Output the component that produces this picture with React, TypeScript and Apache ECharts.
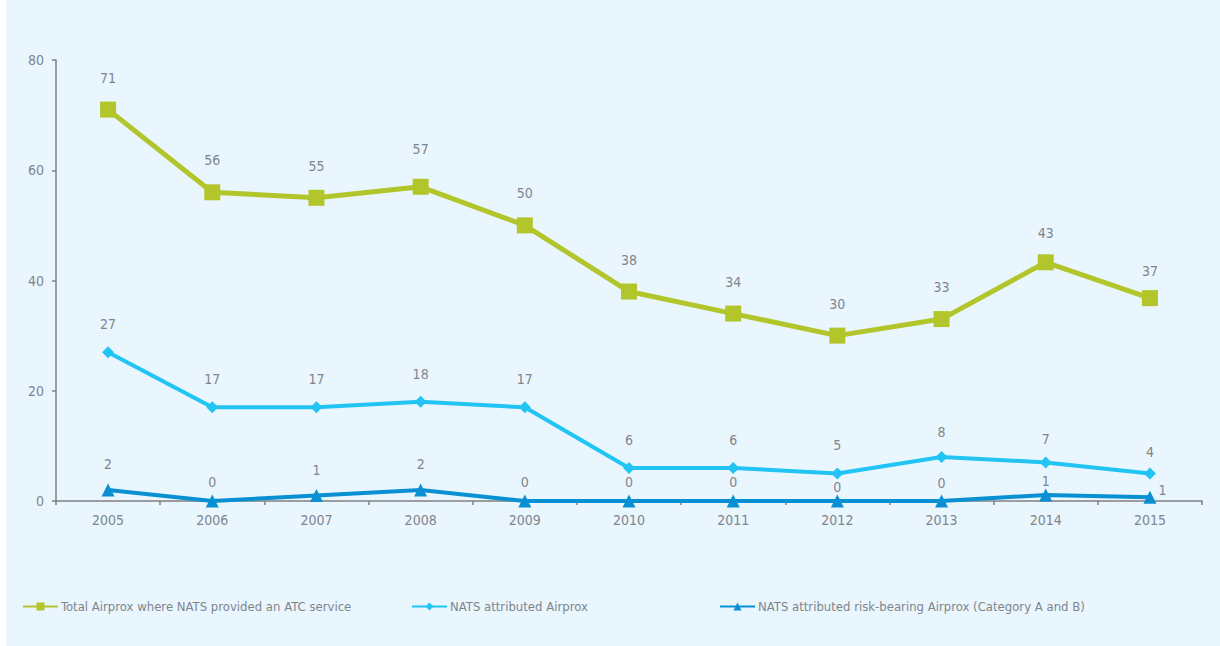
import React, { useEffect, useRef } from "react";
import * as echarts from "echarts";

const years = ["2005", "2006", "2007", "2008", "2009", "2010", "2011", "2012", "2013", "2014", "2015"];
const totalValues = [71, 56, 55, 57, 50, 38, 34, 30, 33, 43.3, 36.8];
const totalLabels = ["71", "56", "55", "57", "50", "38", "34", "30", "33", "43", "37"];
const attributedValues = [27, 17, 17, 18, 17, 6, 6, 5, 8, 7, 5];
const attributedLabels = ["27", "17", "17", "18", "17", "6", "6", "5", "8", "7", "4"];
const riskValues = [2, 0, 1, 2, 0, 0, 0, 0, 0, 1.1, 0.7];
const riskLabels = ["2", "0", "1", "2", "0", "0", "0", "0", "0", "1", "1"];
const yTicks = [0, 20, 40, 60, 80];

const seriesNames = [
  "Total Airprox where NATS provided an ATC service",
  "NATS attributed Airprox",
  "NATS attributed risk-bearing Airprox (Category A and B)",
];

const FONT = "'DejaVu Sans Condensed', 'Roboto', sans-serif";
const GREEN = "#b2c52a";
const LIGHT = "#22c4f4";
const DARK = "#0890d3";
const TEXT = "#7f858d";

export default function App() {
  const ref = useRef<HTMLDivElement>(null);

  useEffect(() => {
    if (!ref.current) return;
    const chart = echarts.init(ref.current, undefined, { renderer: "svg" });

    const totalDist: Record<number, number> = { 3: 23, 9: 14, 10: 12 };
    const attrDist: Record<number, number> = { 8: 12, 9: 10, 10: 8 };
    const riskDist: Record<number, number> = { 1: 6, 4: 6, 5: 6, 6: 6, 7: 1, 8: 5, 9: 0 };

    const labelBase = { show: true, position: "top", color: TEXT, fontFamily: FONT, fontSize: 14 };

    const withDist = (vals: number[], dist: Record<number, number>) =>
      vals.map((v, i) => (dist[i] !== undefined ? { value: v, label: { distance: dist[i] } } : v));

    const option: any = {
      animation: false,
      backgroundColor: "#e9f6fe",
      textStyle: { fontFamily: FONT },
      grid: { left: 50, right: 18, top: 60, bottom: 145 },
      legend: [0, 1, 2].map((i) => ({
        data: [seriesNames[i]],
        left: [16, 405, 713][i],
        top: 600,
        padding: 0,
        itemWidth: 35,
        itemHeight: 10,
        itemGap: 0,
        textStyle: { color: TEXT, fontFamily: FONT, fontSize: 13, padding: [0, 0, 0, -2] },
      })),
      xAxis: {
        type: "category",
        data: years,
        boundaryGap: true,
        axisLine: { lineStyle: { color: "#808080", width: 1.5 } },
        axisTick: { show: true, length: 4, lineStyle: { color: "#808080", width: 1.5 } },
        axisLabel: { color: TEXT, fontFamily: FONT, fontSize: 14, margin: 12 },
        splitLine: { show: false },
      },
      yAxis: {
        type: "value",
        min: yTicks[0],
        max: yTicks[yTicks.length - 1],
        interval: 20,
        axisLine: { show: true, lineStyle: { color: "#808080", width: 1.5 } },
        axisTick: { show: true, length: 4, lineStyle: { color: "#808080", width: 1.5 } },
        axisLabel: { color: TEXT, fontFamily: FONT, fontSize: 14, margin: 12 },
        splitLine: { show: false },
      },
      series: [
        {
          name: seriesNames[0],
          type: "line",
          data: withDist(totalValues, totalDist),
          symbol: "rect",
          symbolSize: 16,
          lineStyle: { color: GREEN, width: 5 },
          itemStyle: { color: GREEN },
          label: { ...labelBase, distance: 17, formatter: (p: any) => totalLabels[p.dataIndex] },
        },
        {
          name: seriesNames[1],
          type: "line",
          data: withDist(attributedValues, attrDist),
          symbol: "diamond",
          symbolSize: 12,
          lineStyle: { color: LIGHT, width: 4 },
          itemStyle: { color: LIGHT },
          label: { ...labelBase, distance: 15, formatter: (p: any) => attributedLabels[p.dataIndex] },
        },
        {
          name: seriesNames[2],
          type: "line",
          data: riskValues.map((v, i) => {
            if (i === riskValues.length - 1) {
              return { value: v, label: { position: "right", distance: 2, offset: [0, -7] } };
            }
            return riskDist[i] !== undefined ? { value: v, label: { distance: riskDist[i] } } : v;
          }),
          symbol: "triangle",
          symbolSize: 13,
          lineStyle: { color: DARK, width: 4 },
          itemStyle: { color: DARK },
          label: { ...labelBase, distance: 12, formatter: (p: any) => riskLabels[p.dataIndex] },
        },
      ],
    };

    chart.setOption(option);
    return () => chart.dispose();
  }, []);

  return (
    <div style={{ position: "fixed", left: 0, top: 0, width: 1220, height: 646, background: "#ffffff" }}>
      <div ref={ref} style={{ position: "absolute", left: 6, top: 0, width: 1214, height: 646 }} />
    </div>
  );
}
